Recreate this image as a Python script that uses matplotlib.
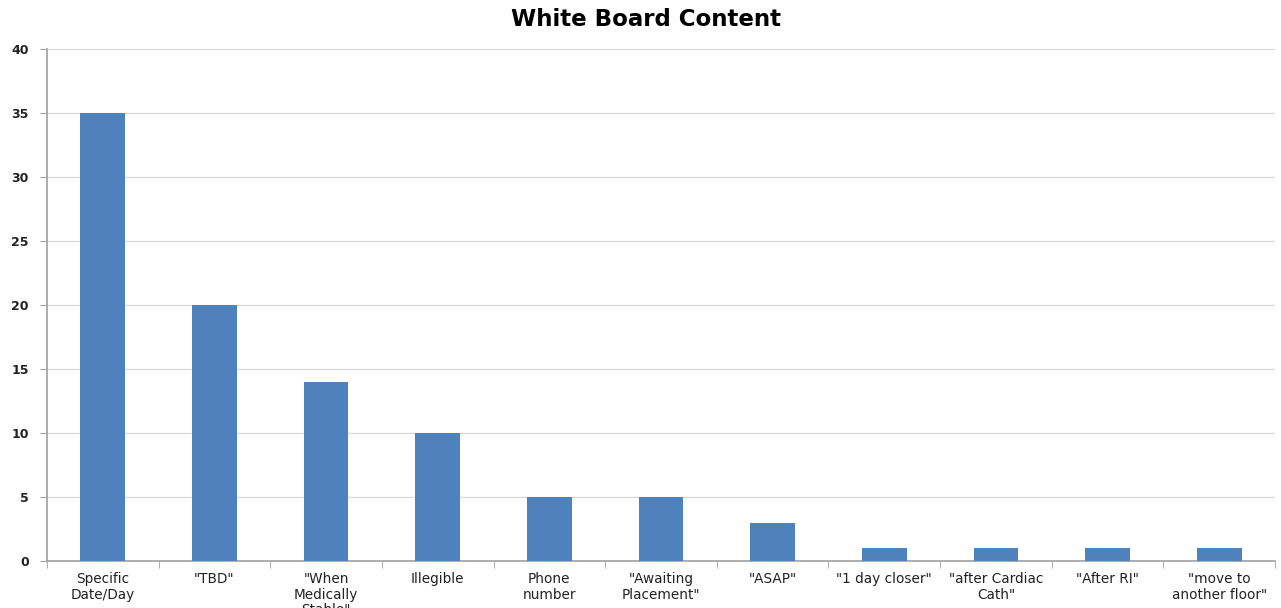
import matplotlib
matplotlib.use("Agg")
import matplotlib.pyplot as plt
import numpy as np

categories = ['Specific\nDate/Day', '"TBD"', '"When\nMedically\nStable"', 'Illegible',
              'Phone\nnumber', '"Awaiting\nPlacement"', '"ASAP"', '"1 day closer"',
              '"after Cardiac\nCath"', '"After RI"', '"move to\nanother floor"']
values = [35, 20, 14, 10, 5, 5, 3, 1, 1, 1, 1]
yticks = [0, 5, 10, 15, 20, 25, 30, 35, 40]

plt.rcParams['font.family'] = ['DejaVu Sans']

fig = plt.figure(figsize=(12.81, 6.08), dpi=100)
ax = fig.add_axes([47/1281, 1-561/608, (1275-47)/1281, (561-49)/608])

x = np.arange(len(categories))
ax.bar(x, values, width=0.4, color='#4F81BD', zorder=3)

ax.set_xlim(-0.5, len(categories)-0.5)
ax.set_ylim(0, 40)
ax.set_yticks(yticks)
ax.set_yticklabels([str(v) for v in yticks], fontsize=9, fontweight='bold', color='#222222')
ax.yaxis.grid(True, color='#d9d9d9', linewidth=0.9, zorder=0)
ax.set_axisbelow(True)

ax.set_xticks(x)
ax.set_xticklabels(categories, fontsize=9.8, color='#222222', linespacing=1.15, va='top')
ax.tick_params(axis='x', which='major', length=0, pad=8)
ax.set_xticks(np.arange(-0.5, len(categories)), minor=True)
ax.tick_params(axis='x', which='minor', length=5, color='#a0a0a0', direction='out')
ax.tick_params(axis='y', length=5, color='#a0a0a0', direction='out', pad=8)

for s in ['top', 'right']:
    ax.spines[s].set_visible(False)
for s in ['left', 'bottom']:
    ax.spines[s].set_color('#a0a0a0')
    ax.spines[s].set_linewidth(1.2)

fig.text(646/1281, 1-20/608, 'White Board Content', ha='center', va='center',
         fontsize=16.5, fontweight='bold', color='black')

fig.savefig('out.png', dpi=100)
